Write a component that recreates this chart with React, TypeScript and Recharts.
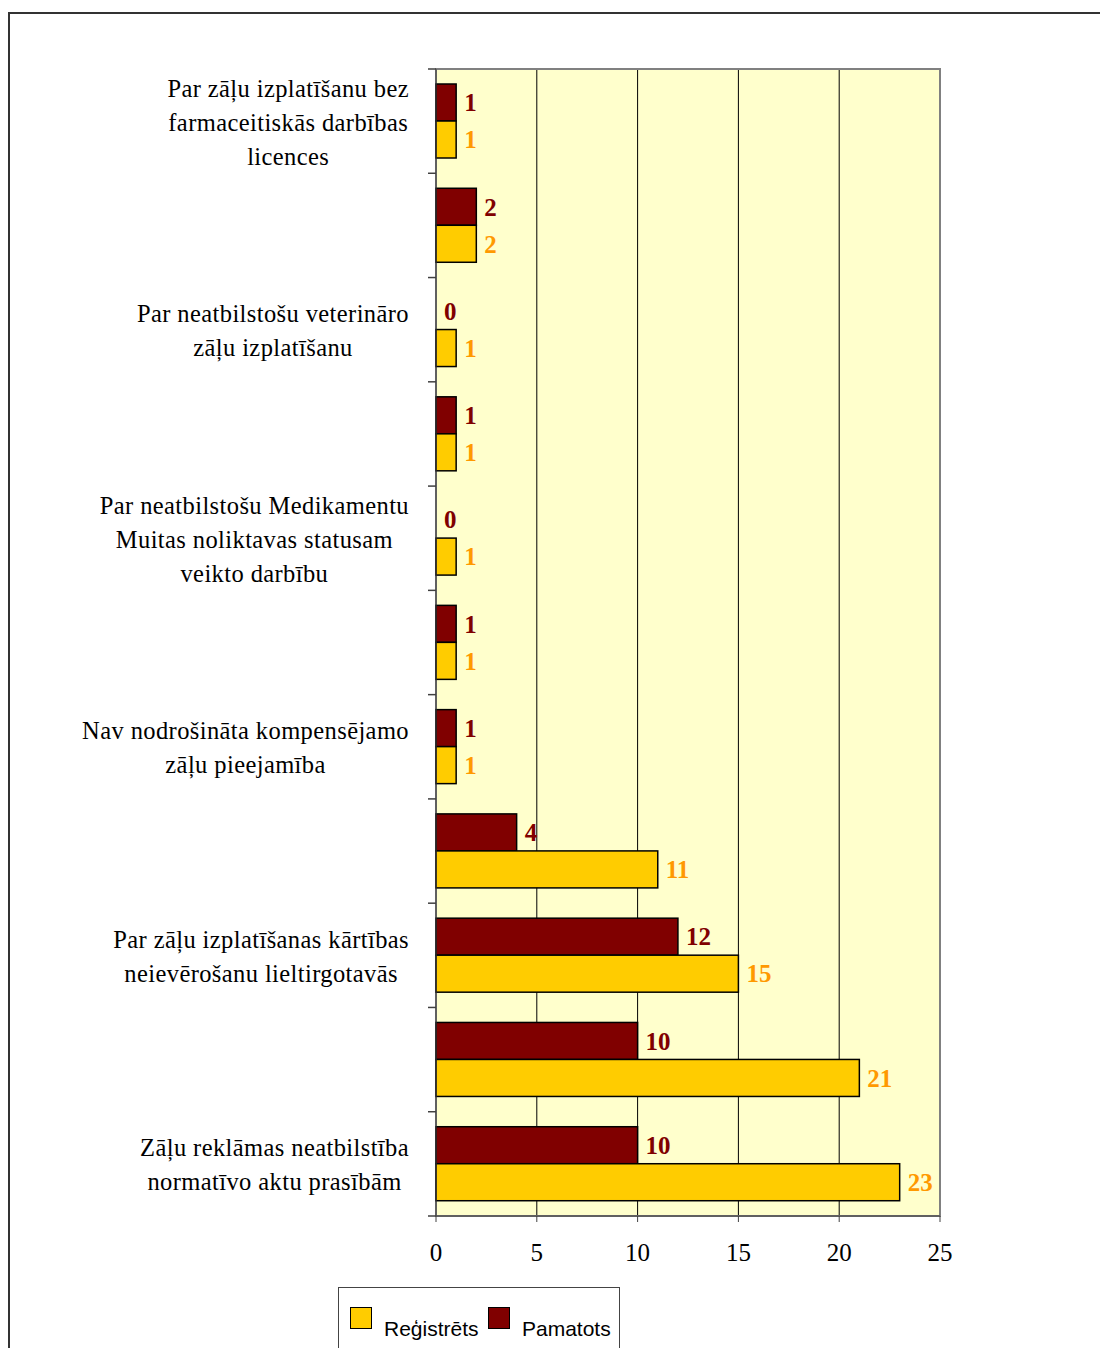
import { BarChart, Bar, XAxis, YAxis, CartesianGrid, ReferenceArea } from 'recharts'

// Kategorijas (tukšās nav parakstītas oriģinālajā attēlā)
const categories = [
  'Par zāļu izplatīšanu bez\nfarmaceitiskās darbības\nlicences',
  '',
  'Par neatbilstošu veterināro\nzāļu izplatīšanu',
  '',
  'Par neatbilstošu Medikamentu\nMuitas noliktavas statusam\nveikto darbību',
  '',
  'Nav nodrošināta kompensējamo\nzāļu pieejamība',
  '',
  'Par zāļu izplatīšanas kārtības\nneievērošanu lieltirgotavās',
  '',
  'Zāļu reklāmas neatbilstība\nnormatīvo aktu prasībām',
]
const pamatots = [1, 2, 0, 1, 0, 1, 1, 4, 12, 10, 10]
const registrets = [1, 2, 1, 1, 1, 1, 1, 11, 15, 21, 23]
const xTicks = [0, 5, 10, 15, 20, 25]

const data = categories.map((name, i) => ({
  id: i,
  name,
  pamatots: pamatots[i],
  registrets: registrets[i],
}))

const W = 1098
const H = 1334
const PLOT_TOP = 55
const PLOT_BOTTOM = 1202
const PLOT_LEFT = 426
const PLOT_RIGHT = 930
const BAND = (PLOT_BOTTOM - PLOT_TOP) / categories.length
const LABEL_RIGHT = 399
const SERIF = '"Liberation Serif", "Times New Roman", serif'
const SANS = '"Liberation Sans", Arial, sans-serif'
const CAT_FONT = 24.5
const CAT_SPACING = 0.4

let ctx: CanvasRenderingContext2D | null = null
function measure(text: string) {
  if (!ctx) ctx = document.createElement('canvas').getContext('2d')
  if (!ctx) return text.length * 11
  ctx.font = `${CAT_FONT}px ${SERIF}`
  return ctx.measureText(text).width + CAT_SPACING * text.length
}

function CategoryTick(props: any) {
  const { y, payload, index } = props
  const label = categories[payload.value] || ''
  const lines = label ? label.split('\n') : []
  const maxW = Math.max(0, ...lines.map(measure))
  const cx = LABEL_RIGHT - maxW / 2
  return (
    <g>
      <line x1={PLOT_LEFT - 8} x2={PLOT_LEFT} y1={y - BAND / 2} y2={y - BAND / 2} stroke="#404040" strokeWidth={1.5} />
      {index === categories.length - 1 && (
        <line x1={PLOT_LEFT - 8} x2={PLOT_LEFT} y1={y + BAND / 2} y2={y + BAND / 2} stroke="#404040" strokeWidth={1.5} />
      )}
      <text textAnchor="middle" fontFamily={SERIF} fontSize={CAT_FONT} letterSpacing={CAT_SPACING} fill="#000">
        {lines.map((ln, i) => (
          <tspan key={i} x={cx} y={y + 1 + (i - (lines.length - 1) / 2) * 34} dy="0.35em">
            {ln}
          </tspan>
        ))}
      </text>
    </g>
  )
}

// bar + value label (also for zero values)
function barWithLabel(key: string, fill: string, labelColor: string) {
  return (props: any) => {
    const { x, y, width, height, payload } = props
    const v = payload ? payload[key] : props.value
    return (
      <g>
        {width > 0 && <rect x={x} y={y} width={width} height={height} fill={fill} stroke="#000" strokeWidth={1.5} />}
        <text
          x={x + Math.max(width, 0) + 8}
          y={y + height / 2}
          dy="0.35em"
          fontFamily={SERIF}
          fontSize={25}
          fontWeight="bold"
          fill={labelColor}
        >
          {v}
        </text>
      </g>
    )
  }
}

function LegendBox() {
  const sq = (left: number, color: string) => (
    <div
      style={{
        position: 'absolute',
        left,
        top: 19,
        width: 20,
        height: 20,
        background: color,
        border: '1.5px solid #000',
      }}
    />
  )
  const txt = (left: number, text: string) => (
    <span style={{ position: 'absolute', left, top: 29, fontFamily: SANS, fontSize: 21, lineHeight: '24px', color: '#000' }}>
      {text}
    </span>
  )
  return (
    <div
      style={{
        position: 'absolute',
        left: 328,
        top: 1273,
        width: 282,
        height: 80,
        border: '1px solid #444',
        background: '#fff',
        boxSizing: 'border-box',
      }}
    >
      {sq(11, '#FFCC00')}
      {txt(45, 'Reģistrēts')}
      {sq(149, '#800000')}
      {txt(183, 'Pamatots')}
    </div>
  )
}

export default function App() {
  return (
    <>
      <style>{`html,body{overflow:hidden}`}</style>
      <div
        style={{
          position: 'relative',
          marginTop: 4,
          width: W,
          height: H,
          borderLeft: '2px solid #333',
          borderTop: '2px solid #333',
          background: '#fff',
        }}
      >
        <BarChart
          width={W}
          height={H}
          data={data}
          layout="vertical"
          margin={{ top: PLOT_TOP, right: W - PLOT_RIGHT, left: 0, bottom: H - PLOT_BOTTOM - 60 }}
          barCategoryGap={15}
          barGap={0}
        >
          <CartesianGrid horizontal={false} stroke="#000" strokeWidth={1} fill="#FFFFCC" />
          <ReferenceArea x1={0} x2={25} stroke="#808080" strokeWidth={2} fill="none" fillOpacity={0} />
          <XAxis
            type="number"
            domain={[0, 25]}
            ticks={xTicks}
            height={60}
            stroke="#404040"
            tickSize={6}
            tickMargin={21}
            tick={{ fontFamily: SERIF, fontSize: 25, fill: '#000' }}
          />
          <YAxis
            type="category"
            dataKey="id"
            width={PLOT_LEFT}
            interval={0}
            tickLine={false}
            stroke="#404040"
            tick={<CategoryTick />}
          />
          <Bar
            dataKey="pamatots"
            fill="#800000"
            stroke="#000"
            isAnimationActive={false}
            shape={barWithLabel('pamatots', '#800000', '#800000')}
          />
          <Bar
            dataKey="registrets"
            fill="#FFCC00"
            stroke="#000"
            isAnimationActive={false}
            shape={barWithLabel('registrets', '#FFCC00', '#FF9900')}
          />
        </BarChart>
        <LegendBox />
      </div>
    </>
  )
}
